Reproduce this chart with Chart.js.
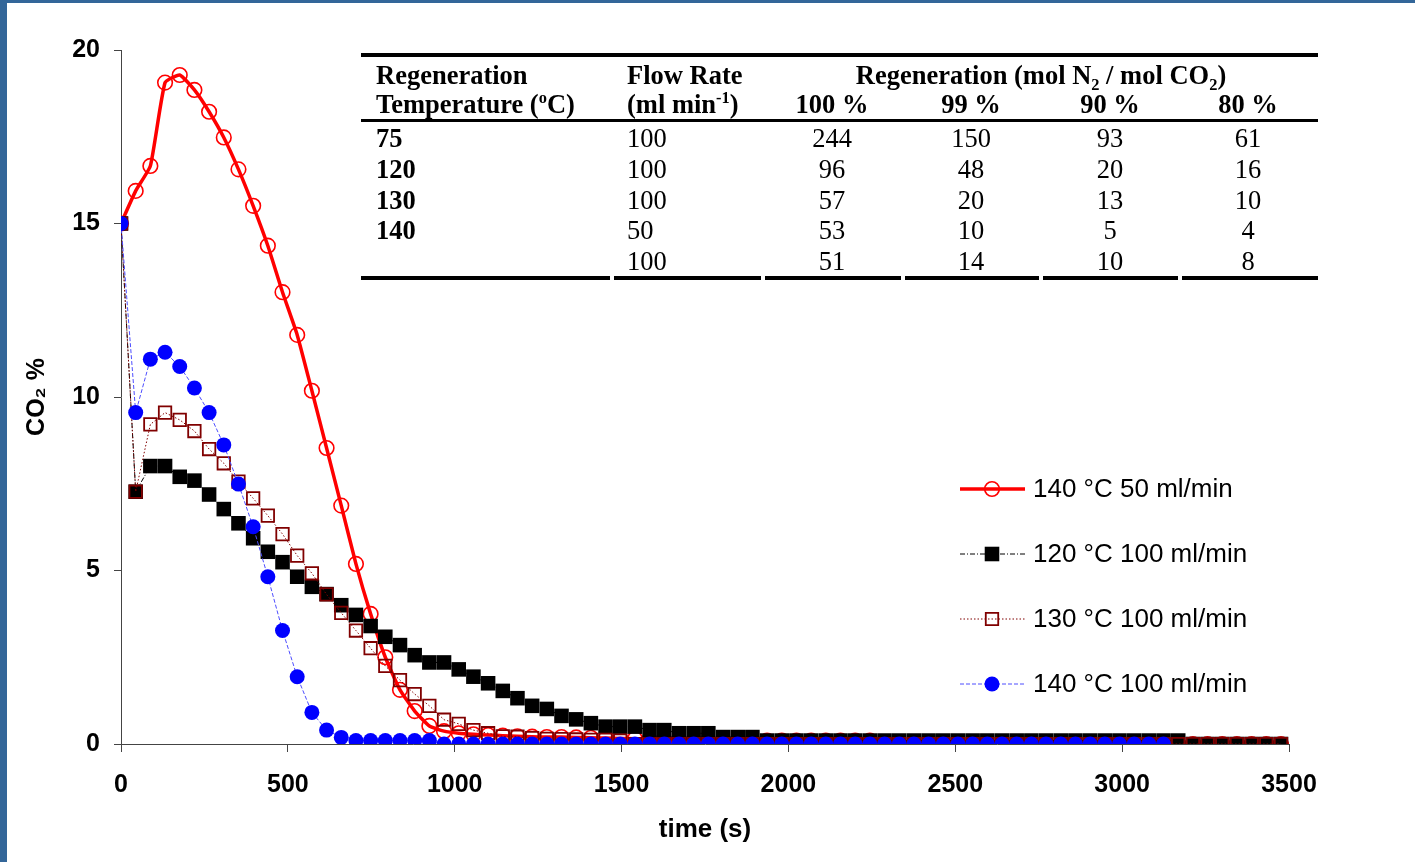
<!DOCTYPE html>
<html>
<head>
<meta charset="utf-8">
<script src="https://cdn.jsdelivr.net/npm/chart.js@4.4.1/dist/chart.umd.min.js"></script>
<style>
  html, body { margin: 0; padding: 0; }
  body { width: 1415px; height: 862px; background: #336699; position: relative; overflow: hidden; }
  #paper { position: absolute; left: 7px; top: 3px; right: 0; bottom: 0; background: #fff; }
  #c { position: absolute; left: 0; top: 0; }
  #tbl { position: absolute; left: 0; top: 0; font-family: "Liberation Serif", "Times New Roman", serif; font-size: 26.5px; color: #000; }
  .cell { position: absolute; white-space: nowrap; line-height: 1; transform: translateY(-50%); }
  .ctr { transform: translate(-50%, -50%); }
  .b { font-weight: bold; }
  .rule { position: absolute; background: #000; }
  sup, sub { font-size: 62%; line-height: 0; }
</style>
</head>
<body>
<div id="paper"></div>
<canvas id="c" width="1415" height="862"></canvas>
<div id="tbl"></div>
<script>
// sample times (s)
var times = [0,44,88,132,176,220,264,308,352,396,440,484,528,572,616,660,704,748,792,836,
  880,924,968,1012,1056,1100,1144,1188,1232,1276,1320,1364,1408,1452,1496,1540,1584,1628,1672,1716,
  1760,1804,1848,1892,1936,1980,2024,2068,2112,2156,2200,2244,2288,2332,2376,2420,2464,2508,2552,2596,
  2640,2684,2728,2772,2816,2860,2904,2948,2992,3036,3080,3124,3168,3212,3256,3300,3344,3388,3432,3476];

// CO2 % per run
var co2_140_50 = [15.0,15.94,16.66,19.06,19.28,18.85,18.22,17.48,16.56,15.51,
  14.36,13.02,11.79,10.18,8.53,6.87,5.19,3.75,2.5,1.56,
  0.95,0.52,0.37,0.31,0.28,0.26,0.24,0.22,0.21,0.2,
  0.2,0.19,0.18,0.17,0.16,0.15,0.13,0.12,0.12,0.11,
  0.11,0.1,0.1,0.1,0.1,0.1,0.1,0.1,0.1,0.1,
  0.1,0.1,0,0,0,0,0,0,0,0,
  0,0,0,0,0,0,0,0,0,0,
  0,0,0,0,0,0,0,0,0,0];
var co2_120_100 = [15.0,7.27,8.01,8.01,7.7,7.59,7.19,6.77,6.36,5.93,
  5.54,5.24,4.82,4.53,4.32,4.0,3.72,3.4,3.09,2.85,
  2.56,2.35,2.35,2.15,1.94,1.75,1.53,1.32,1.1,1.01,
  0.81,0.71,0.6,0.5,0.5,0.5,0.4,0.4,0.31,0.31,
  0.31,0.2,0.2,0.2,0.1,0.1,0.1,0.1,0.1,0.1,
  0.1,0.1,0.1,0.1,0.1,0.1,0.1,0.1,0.1,0.1,
  0.1,0.1,0.1,0.1,0.1,0.1,0.1,0.1,0.1,0.1,
  0.1,0.1,0.1,0,0,0,0,0,0,0];
var co2_130_100 = [15.0,7.27,9.21,9.55,9.34,9.02,8.5,8.09,7.56,7.08,
  6.58,6.05,5.43,4.92,4.31,3.78,3.27,2.76,2.25,1.84,
  1.44,1.1,0.7,0.58,0.4,0.31,0.22,0.21,0.17,0.15,
  0.14,0.13,0.12,0.12,0.1,0,0,0,0,0,
  0,0,0,0,0,0,0,0,0,0,
  0,0,0,0,0,0,0,0,0,0,
  0,0,0,0,0,0,0,0,0,0,
  0,0,0,0,0,0,0,0,0,0];
var co2_140_100 = [15.0,9.55,11.09,11.29,10.88,10.26,9.55,8.62,7.49,6.26,
  4.82,3.27,1.94,0.91,0.4,0.19,0.1,0.1,0.1,0.1,
  0.1,0.1,0,0,0,0,0,0,0,0,
  0,0,0,0,0,0,0,0,0,0,
  0,0,0,0,0,0,0,0,0,0,
  0,0,0,0,0,0,0,0,0,0,
  0,0,0,0,0,0,0,0,0,0,
  0,0];

var seriesLabels = ["140 °C 50 ml/min", "120 °C 100 ml/min", "130 °C 100 ml/min", "140 °C 100 ml/min"];

// inset table
var tableTemps = ["75", "120", "130", "140", ""];
var tableFlows = ["100", "100", "100", "50", "100"];
var regen100 = ["244", "96", "57", "53", "51"];
var regen99 = ["150", "48", "20", "10", "14"];
var regen90 = ["93", "20", "13", "5", "10"];
var regen80 = ["61", "16", "10", "4", "8"];
var regenHeads = ["100 %", "99 %", "90 %", "80 %"];

function pts(vals) {
  return vals.map(function (v, i) { return { x: times[i], y: v }; });
}

var sans = "'Liberation Sans', Arial, sans-serif";

function drawMarker(ctx, ds, x, y) {
  ctx.save();
  ctx.fillStyle = ds.pointBackgroundColor;
  ctx.strokeStyle = ds.pointBorderColor;
  ctx.lineWidth = ds.pointBorderWidth;
  ctx.setLineDash([]);
  ctx.beginPath();
  if (ds.pointStyle === "rect") {
    var s = Math.SQRT1_2 * ds.pointRadius;
    ctx.rect(x - s, y - s, 2 * s, 2 * s);
  } else {
    ctx.arc(x, y, ds.pointRadius, 0, Math.PI * 2);
  }
  ctx.fill();
  if (ds.pointBorderWidth > 0) ctx.stroke();
  ctx.restore();
}

// legend drawn inside the plot, right side
var legendPlugin = {
  id: "insideLegend",
  afterDraw: function (chart) {
    var ctx = chart.ctx;
    var ys = [489, 554, 619, 684];
    chart.data.datasets.forEach(function (ds, i) {
      var y = ys[i];
      ctx.save();
      ctx.strokeStyle = ds.borderColor;
      ctx.lineWidth = ds.borderWidth;
      ctx.setLineDash(ds.borderDash || []);
      ctx.beginPath();
      ctx.moveTo(960, y);
      ctx.lineTo(1025, y);
      ctx.stroke();
      ctx.restore();
      drawMarker(ctx, ds, 992, y);
      ctx.save();
      ctx.fillStyle = "#000";
      ctx.font = "26px " + sans;
      ctx.textBaseline = "middle";
      ctx.fillText(ds.label, 1033, y + 1);
      ctx.restore();
    });
  }
};

var chart = new Chart(document.getElementById("c").getContext("2d"), {
  type: "line",
  data: {
    datasets: [
      {
        label: seriesLabels[0],
        data: pts(co2_140_50),
        borderColor: "#ff0000",
        borderWidth: 3.5,
        tension: 0.15,
        pointStyle: "circle",
        pointRadius: 7.3,
        pointBorderWidth: 1.6,
        pointBorderColor: "#ff0000",
        pointBackgroundColor: "rgba(0,0,0,0)",
        order: 4
      },
      {
        label: seriesLabels[1],
        data: pts(co2_120_100),
        borderColor: "#000000",
        borderWidth: 1,
        borderDash: [5, 2, 1, 2],
        pointStyle: "rect",
        pointRadius: 10.3,
        pointBorderWidth: 0,
        pointBorderColor: "#000000",
        pointBackgroundColor: "#000000",
        order: 3
      },
      {
        label: seriesLabels[2],
        data: pts(co2_130_100),
        borderColor: "#800000",
        borderWidth: 1,
        borderDash: [1.5, 2],
        pointStyle: "rect",
        pointRadius: 8.8,
        pointBorderWidth: 1.8,
        pointBorderColor: "#800000",
        pointBackgroundColor: "rgba(0,0,0,0)",
        order: 2
      },
      {
        label: seriesLabels[3],
        data: pts(co2_140_100),
        borderColor: "#4d4dff",
        borderWidth: 1,
        borderDash: [4, 2],
        pointStyle: "circle",
        pointRadius: 7.5,
        pointBorderWidth: 0,
        pointBorderColor: "#0000ff",
        pointBackgroundColor: "#0000ff",
        order: 1
      }
    ]
  },
  options: {
    responsive: false,
    animation: false,
    events: [],
    layout: { padding: { left: 10, top: 50, right: 126, bottom: 10 } },
    plugins: { legend: { display: false }, tooltip: { enabled: false } },
    scales: {
      x: {
        type: "linear",
        min: 0,
        max: 3500,
        afterFit: function (s) { s.height = 108; },
        ticks: { stepSize: 500, color: "#000", padding: 18, maxRotation: 0,
          callback: function (v) { return String(v); },
          font: { family: sans, size: 25, weight: "bold" } },
        grid: { display: true, drawOnChartArea: false, drawTicks: true, tickLength: 8, color: "#444" },
        border: { display: true, color: "#444", width: 1 },
        title: { display: true, text: "time (s)", color: "#000", padding: { top: 0, bottom: 7 },
          font: { family: sans, size: 26, weight: "bold" } }
      },
      y: {
        min: 0,
        max: 20,
        afterFit: function (s) { s.width = 111; },
        ticks: { stepSize: 5, color: "#000", padding: 14,
          callback: function (v) { return String(v); },
          font: { family: sans, size: 25, weight: "bold" } },
        grid: { display: true, drawOnChartArea: false, drawTicks: true, tickLength: 7, color: "#444" },
        border: { display: true, color: "#444", width: 1 },
        title: { display: true, text: "CO₂ %", color: "#000", padding: { top: 12, bottom: 0 },
          font: { family: sans, size: 25, weight: "bold" } }
      }
    }
  },
  plugins: [legendPlugin]
});

// inset table as positioned text
var tbl = document.getElementById("tbl");
function cell(html, x, y, bold, center) {
  var d = document.createElement("div");
  d.className = "cell" + (bold ? " b" : "") + (center ? " ctr" : "");
  d.style.left = x + "px";
  d.style.top = y + "px";
  d.innerHTML = html;
  tbl.appendChild(d);
}
function rule(x1, x2, y, h) {
  var d = document.createElement("div");
  d.className = "rule";
  d.style.left = x1 + "px";
  d.style.top = y + "px";
  d.style.width = (x2 - x1) + "px";
  d.style.height = h + "px";
  tbl.appendChild(d);
}

rule(361, 1318, 53, 4);
rule(361, 1318, 119, 3);
[[361, 610], [614, 761], [765, 901], [905, 1039], [1043, 1178], [1182, 1318]].forEach(function (s) {
  rule(s[0], s[1], 276, 4);
});

cell("Regeneration", 376, 75, true, false);
cell("Temperature (<sup>o</sup>C)", 376, 104, true, false);
cell("Flow Rate", 627, 75, true, false);
cell("(ml min<sup>-1</sup>)", 627, 104, true, false);
cell("Regeneration (mol N<sub>2</sub> / mol CO<sub>2</sub>)", 1041, 75, true, true);
var colX = [832, 971, 1110, 1248];
regenHeads.forEach(function (h, j) { cell(h, colX[j], 104, true, true); });

var rowY = [138, 169, 200, 230, 261];
tableTemps.forEach(function (t, i) {
  cell(t, 376, rowY[i], true, false);
  cell(tableFlows[i], 627, rowY[i], false, false);
  cell(regen100[i], colX[0], rowY[i], false, true);
  cell(regen99[i], colX[1], rowY[i], false, true);
  cell(regen90[i], colX[2], rowY[i], false, true);
  cell(regen80[i], colX[3], rowY[i], false, true);
});
</script>
</body>
</html>
